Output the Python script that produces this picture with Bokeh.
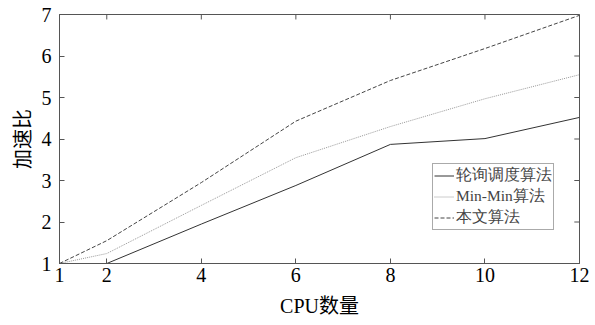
from bokeh.plotting import figure
from bokeh.models import FixedTicker, Range1d, Legend, LegendItem
from bokeh.embed import file_html
from bokeh.resources import INLINE

cpus = [1, 2, 4, 6, 8, 10, 12]
round_robin = [1.0, 1.0, 1.95, 2.88, 3.87, 4.01, 4.52]
min_min = [1.0, 1.24, 2.40, 3.55, 4.30, 4.97, 5.55]
proposed = [1.0, 1.55, 2.95, 4.43, 5.41, 6.18, 6.98]
x_ticks = [1, 2, 4, 6, 8, 10, 12]
y_ticks = [1, 2, 3, 4, 5, 6, 7]
labels = ["轮询调度算法", "Min-Min算法", "本文算法"]
x_min, x_max = 1, 12
y_min, y_max = 1, 7

FONT = "'Liberation Serif', 'Noto Sans CJK SC'"
AX = "#555555"

p = figure(width=595, height=325, output_backend="svg", toolbar_location=None,
           x_range=Range1d(x_min, x_max), y_range=Range1d(y_min, y_max),
           min_border_left=59, min_border_right=16, min_border_top=14, min_border_bottom=62)
p.xgrid.visible = False
p.ygrid.visible = False
p.outline_line_color = AX
p.background_fill_color = "white"

def style(ax, ticks):
    ax.ticker = FixedTicker(ticks=ticks)
    ax.axis_line_color = AX
    ax.major_tick_line_color = AX
    ax.major_tick_in = 5
    ax.major_tick_out = 0
    ax.minor_tick_line_color = None
    ax.major_label_text_font = FONT
    ax.major_label_text_color = "black"
    ax.major_label_text_font_size = "20px"
    ax.axis_label_text_font = FONT
    ax.axis_label_text_font_style = "normal"
    ax.axis_label_text_font_size = "20px"
    ax.axis_label_text_color = "black"

style(p.xaxis[0], x_ticks)
style(p.yaxis[0], y_ticks)
p.xaxis[0].axis_label = "CPU数量"
p.yaxis[0].axis_label = "加速比"
p.xaxis[0].major_label_standoff = 4
p.xaxis[0].axis_label_standoff = 10
p.yaxis[0].major_label_standoff = 8
p.yaxis[0].axis_label_standoff = 5

# inward ticks on the top and right edges of the box
tick_dx = 0.11
tick_dy = 0.12
p.segment(x0=x_ticks, y0=[y_max] * len(x_ticks), x1=x_ticks, y1=[y_max - tick_dy] * len(x_ticks),
          line_color=AX, line_width=1)
p.segment(x0=[x_max] * len(y_ticks), y0=y_ticks, x1=[x_max - tick_dx] * len(y_ticks), y1=y_ticks,
          line_color=AX, line_width=1)

r1 = p.line(cpus, round_robin, line_color="#333333", line_width=1)
r2 = p.line(cpus, min_min, line_color="#999999", line_width=1, line_dash="1 1")
r3 = p.line(cpus, proposed, line_color="#444444", line_width=1, line_dash="4 2")

legend = Legend(items=[LegendItem(label=labels[0], renderers=[r1]),
                       LegendItem(label=labels[1], renderers=[r2]),
                       LegendItem(label=labels[2], renderers=[r3])],
                location=(373, 33))
legend.label_text_font = "Liberation Serif"
legend.label_text_font_size = "15.5px"
legend.label_text_line_height = 0.8
legend.label_height = 15
legend.glyph_height = 15
legend.glyph_width = 20
legend.label_standoff = 2
legend.spacing = 0
legend.padding = 1
legend.margin = 0
legend.border_line_color = AX
legend.border_line_width = 1
legend.background_fill_alpha = 1
p.add_layout(legend, "center")

open("out.html", "w").write(file_html(p, INLINE))
